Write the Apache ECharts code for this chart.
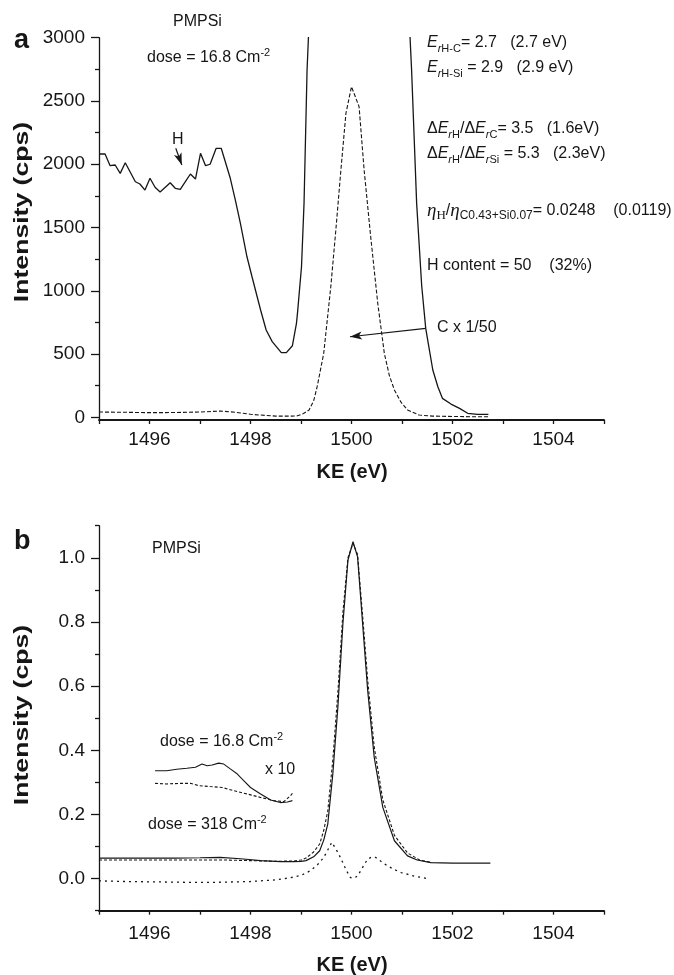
<!DOCTYPE html>
<html><head><meta charset="utf-8">
<script src="https://cdn.jsdelivr.net/npm/echarts@6/dist/echarts.min.js"></script>
<style>html,body{margin:0;padding:0;background:#fff}#c{width:674px;height:975px}</style>
</head><body><div id="c"></div>
<script>
// ---------- data ----------
const xLabelValues = [1496, 1498, 1500, 1502, 1504];
const aYTickValues = [0, 500, 1000, 1500, 2000, 2500, 3000];
const aYMinorValues = [250, 750, 1250, 1750, 2250, 2750];
const bYTickValues = [0, 0.2, 0.4, 0.6, 0.8, 1.0];
const bYMinorValues = [-0.1, 0.1, 0.3, 0.5, 0.7, 0.9, 1.1];

// panel a: solid = H region + C peak flanks (peak runs off scale)
const aSolid = [
 [1495.02,2081],[1495.12,2081],[1495.22,1989],[1495.32,1994],[1495.42,1928],[1495.52,2012],
 [1495.72,1862],[1495.81,1844],[1495.91,1796],[1496.01,1889],[1496.11,1818],[1496.21,1781],
 [1496.41,1854],[1496.51,1810],[1496.61,1802],[1496.71,1862],[1496.81,1923],[1496.91,1883],
 [1497.01,2086],[1497.11,1989],[1497.20,2000],[1497.32,2126],[1497.42,2126],[1497.60,1889],
 [1497.70,1717],[1497.80,1533],[1497.93,1269],[1498.03,1111],[1498.20,848],[1498.31,690],
 [1498.43,598],[1498.61,511],[1498.71,511],[1498.83,566],[1498.91,743],[1498.93,822],
 [1499.01,1190],[1499.06,1691],[1499.12,2745],[1499.20,3500],
 [1501.10,3500],[1501.19,2745],[1501.29,1691],[1501.39,1040],[1501.47,703],[1501.52,585],
 [1501.61,374],[1501.71,242],[1501.80,150],[1501.97,105],[1502.14,71],[1502.30,32],
 [1502.50,24],[1502.71,24]
];
// panel a: dashed = C x 1/50
const aDashed = [
 [1495.0,42],[1495.5,40],[1496.0,37],[1496.5,38],[1497.0,42],[1497.4,50],[1497.7,40],
 [1498.0,24],[1498.3,15],[1498.5,10],[1498.8,10],[1498.93,12],[1499.05,30],[1499.16,58],
 [1499.25,130],[1499.32,242],[1499.45,506],[1499.59,1032],[1499.69,1480],[1499.79,1955],
 [1499.89,2403],[1500.0,2613],[1500.15,2455],[1500.25,1955],[1500.38,1427],[1500.52,901],
 [1500.65,506],[1500.75,330],[1500.85,216],[1500.98,120],[1501.11,58],[1501.34,18],
 [1501.6,10],[1502.0,7],[1502.4,5],[1502.71,5]
];
// panel b
const bDose168 = [
 [1495.0,0.064],[1495.5,0.064],[1496.0,0.064],[1496.5,0.064],[1497.0,0.065],[1497.4,0.066],
 [1497.8,0.062],[1498.2,0.056],[1498.6,0.053],[1498.86,0.053],[1499.0,0.054],[1499.1,0.056],
 [1499.25,0.068],[1499.37,0.087],[1499.45,0.12],[1499.53,0.17],[1499.63,0.326],[1499.73,0.534],
 [1499.83,0.795],[1499.93,0.993],[1500.03,1.05],[1500.12,1.003],[1500.22,0.795],[1500.32,0.587],
 [1500.45,0.378],[1500.62,0.222],[1500.85,0.118],[1501.11,0.071],[1501.3,0.058],[1501.57,0.05],
 [1502.0,0.048],[1502.4,0.048],[1502.75,0.048]
];
const bDose318 = [
 [1495.0,0.058],[1496.0,0.058],[1497.0,0.058],[1497.5,0.058],[1498.0,0.056],[1498.5,0.054],
 [1498.86,0.055],[1499.0,0.058],[1499.1,0.064],[1499.25,0.083],[1499.37,0.108],[1499.45,0.15],
 [1499.53,0.21],[1499.63,0.37],[1499.73,0.58],[1499.83,0.83],[1499.93,1.0],[1500.03,1.045],
 [1500.12,1.01],[1500.22,0.82],[1500.32,0.62],[1500.45,0.41],[1500.62,0.245],[1500.85,0.135],
 [1501.11,0.08],[1501.35,0.058],[1501.6,0.05]
];
const bDifference = [
 [1495.0,-0.007],[1495.5,-0.009],[1496.0,-0.010],[1496.5,-0.011],[1497.0,-0.012],[1497.5,-0.011],
 [1498.0,-0.009],[1498.5,-0.004],[1498.8,0.003],[1499.0,0.010],[1499.18,0.024],[1499.32,0.042],
 [1499.45,0.066],[1499.55,0.095],[1499.61,0.113],[1499.7,0.09],[1499.78,0.066],[1499.9,0.025],
 [1499.98,0.003],[1500.05,0.002],[1500.12,0.008],[1500.22,0.035],[1500.32,0.061],[1500.4,0.067],
 [1500.48,0.066],[1500.6,0.052],[1500.71,0.04],[1500.85,0.028],[1500.98,0.019],[1501.24,0.008],
 [1501.5,0.0]
];
const bInset168 = [
 [1496.11,0.336],[1496.34,0.336],[1496.54,0.341],[1496.74,0.344],[1496.91,0.347],[1497.04,0.357],
 [1497.14,0.352],[1497.24,0.354],[1497.37,0.36],[1497.47,0.357],[1497.60,0.342],[1497.74,0.326],
 [1497.87,0.305],[1498.0,0.284],[1498.2,0.264],[1498.4,0.245],[1498.59,0.237],[1498.73,0.239],
 [1498.83,0.243]
];
const bInset318 = [
 [1496.11,0.297],[1496.34,0.295],[1496.61,0.297],[1496.81,0.297],[1496.97,0.29],[1497.2,0.287],
 [1497.44,0.284],[1497.67,0.274],[1497.93,0.264],[1498.2,0.253],[1498.46,0.243],[1498.66,0.24],
 [1498.79,0.258],[1498.83,0.266]
];
// arrows (data coordinates)
const arrowC = [[1501.47,703],[1499.97,637]];
const arrowH = [[1496.52,2126],[1496.64,1994]];

// ---------- chart ----------
const FF = '"Liberation Sans", Arial, Helvetica, sans-serif';
const SERIF = '"Liberation Serif", "Times New Roman", serif';
const INK = '#161616';
const chart = echarts.init(document.getElementById('c'), null, {renderer: 'canvas'});

function xAxisCfg(grid, margin) {
  return {
    type: 'value', gridIndex: grid, min: 1495, max: 1505, interval: 1,
    axisLine: {show: true, onZero: false, lineStyle: {color: INK, width: 1.8}},
    axisTick: {show: true, inside: false, length: 4, lineStyle: {color: INK, width: 1.3}},
    axisLabel: {margin: margin, fontSize: 19, fontFamily: FF, color: INK,
      formatter: v => xLabelValues.includes(Math.round(v)) ? String(Math.round(v)) : ''},
    splitLine: {show: false}
  };
}
function yMajor(grid, min, max, ticks, fmt) {
  return {
    type: 'value', gridIndex: grid, min: min, max: max, position: 'left',
    axisLine: {show: true, onZero: false, lineStyle: {color: INK, width: 1.3}},
    axisTick: {show: true, inside: false, length: 8, customValues: ticks, lineStyle: {color: INK, width: 1.3}},
    axisLabel: {show: true, margin: 14, fontSize: 19, fontFamily: FF, color: INK, customValues: ticks, formatter: fmt},
    splitLine: {show: false}
  };
}
function yMinor(grid, min, max, ticks) {
  return {
    type: 'value', gridIndex: grid, min: min, max: max, position: 'left',
    axisLine: {show: false, onZero: false},
    axisTick: {show: true, inside: false, length: 4, customValues: ticks, lineStyle: {color: INK, width: 1.3}},
    axisLabel: {show: false},
    splitLine: {show: false}
  };
}

const richStyles = {
  it: {fontStyle: 'italic', fontSize: 16, fontFamily: FF, fill: INK},
  subi: {fontStyle: 'italic', fontSize: 11, fontFamily: FF, verticalAlign: 'bottom', fill: INK},
  sub: {fontSize: 11, fontFamily: FF, verticalAlign: 'bottom', fill: INK},
  sup: {fontSize: 11, fontFamily: FF, verticalAlign: 'top', fill: INK},
  eta: {fontStyle: 'italic', fontSize: 19, fontFamily: SERIF, fill: INK},
  ssub: {fontSize: 13, fontFamily: SERIF, verticalAlign: 'bottom', fill: INK},
  sub12: {fontSize: 12, fontFamily: FF, verticalAlign: 'bottom', fill: INK}
};
function txt(x, y, text, opts) {
  opts = opts || {};
  return {
    type: 'text', x: x, y: y, rotation: opts.rotation || 0,
    scaleX: opts.scaleX || 1, scaleY: 1, silent: true,
    style: {
      text: text, fill: INK,
      fontSize: opts.size || 16, fontFamily: FF, fontWeight: opts.weight || 'normal',
      lineHeight: opts.lh || 22,
      align: opts.align || 'left', verticalAlign: 'middle',
      rich: richStyles
    }
  };
}

const option = {
  animation: false,
  backgroundColor: '#ffffff',
  grid: [
    {left: 99, width: 505, top: 37.7, height: 382.3, containLabel: false},
    {left: 99, width: 505, top: 525.7, height: 385, containLabel: false}
  ],
  xAxis: [xAxisCfg(0, 10), xAxisCfg(1, 14)],
  yAxis: [
    yMajor(0, -21, 3000, aYTickValues, v => String(Math.round(v))),
    yMinor(0, -21, 3000, aYMinorValues),
    yMajor(1, -0.1, 1.1, bYTickValues, v => (Math.round(v * 10) / 10).toFixed(1)),
    yMinor(1, -0.1, 1.1, bYMinorValues)
  ],
  series: [
    {type: 'line', name: 'a solid', xAxisIndex: 0, yAxisIndex: 0, data: aSolid, showSymbol: false, clip: true,
     lineStyle: {color: INK, width: 1.3}, z: 3,
     markLine: {silent: true, symbol: ['none', 'arrow'], symbolSize: [6, 12], animation: false,
       label: {show: false}, lineStyle: {color: INK, width: 1.2, type: 'solid'},
       data: [
         [{coord: arrowC[0]}, {coord: arrowC[1]}],
         [{coord: arrowH[0]}, {coord: arrowH[1]}]
       ]}},
    {type: 'line', name: 'a dashed', xAxisIndex: 0, yAxisIndex: 0, data: aDashed, showSymbol: false, clip: true,
     lineStyle: {color: INK, width: 1.1, type: [4, 2]}},
    {type: 'line', name: 'b 16.8', xAxisIndex: 1, yAxisIndex: 2, data: bDose168, showSymbol: false,
     lineStyle: {color: INK, width: 1.2}},
    {type: 'line', name: 'b 318', xAxisIndex: 1, yAxisIndex: 2, data: bDose318, showSymbol: false,
     lineStyle: {color: INK, width: 1.1, type: [3, 2]}},
    {type: 'line', name: 'b diff', xAxisIndex: 1, yAxisIndex: 2, data: bDifference, showSymbol: false,
     lineStyle: {color: INK, width: 1.3, type: [2, 4]}},
    {type: 'line', name: 'b inset 16.8', xAxisIndex: 1, yAxisIndex: 2, data: bInset168, showSymbol: false,
     lineStyle: {color: INK, width: 1.1}},
    {type: 'line', name: 'b inset 318', xAxisIndex: 1, yAxisIndex: 2, data: bInset318, showSymbol: false,
     lineStyle: {color: INK, width: 1.1, type: [3, 2]}}
  ],
  graphic: [
    // panel a
    txt(14, 41, 'a', {size: 27, weight: 'bold'}),
    txt(173, 22, 'PMPSi'),
    txt(147, 58, 'dose = 16.8 Cm{sup|-2}'),
    txt(172, 140, 'H'),
    txt(427, 43, '{it|E}{subi|r}{sub|H-C}= 2.7   (2.7 eV)'),
    txt(427, 68, '{it|E}{subi|r}{sub|H-Si} = 2.9   (2.9 eV)'),
    txt(427, 129, 'Δ{it|E}{subi|r}{sub|H}/Δ{it|E}{subi|r}{sub|C}= 3.5   (1.6eV)'),
    txt(427, 154, 'Δ{it|E}{subi|r}{sub|H}/Δ{it|E}{subi|r}{sub|Si} = 5.3   (2.3eV)'),
    txt(427, 211, '{eta|η}{ssub|H}/{eta|η}{sub12|C0.43+Si0.07}= 0.0248    (0.0119)'),
    txt(427, 266, 'H content = 50    (32%)'),
    txt(437, 328, 'C x 1/50'),
    txt(22, 212, 'Intensity (cps)', {size: 20, weight: 'bold', align: 'center', rotation: Math.PI / 2, scaleX: 1.33}),
    txt(352, 472, 'KE (eV)', {size: 20, weight: 'bold', align: 'center'}),
    // panel b
    txt(14, 542, 'b', {size: 27, weight: 'bold'}),
    txt(152, 549, 'PMPSi'),
    txt(160, 742, 'dose = 16.8 Cm{sup|-2}'),
    txt(265, 770, 'x 10'),
    txt(148, 825, 'dose = 318 Cm{sup|-2}'),
    txt(22, 715, 'Intensity (cps)', {size: 20, weight: 'bold', align: 'center', rotation: Math.PI / 2, scaleX: 1.33}),
    txt(352, 965, 'KE (eV)', {size: 20, weight: 'bold', align: 'center'})
  ]
};
chart.setOption(option);
</script>
</body></html>
